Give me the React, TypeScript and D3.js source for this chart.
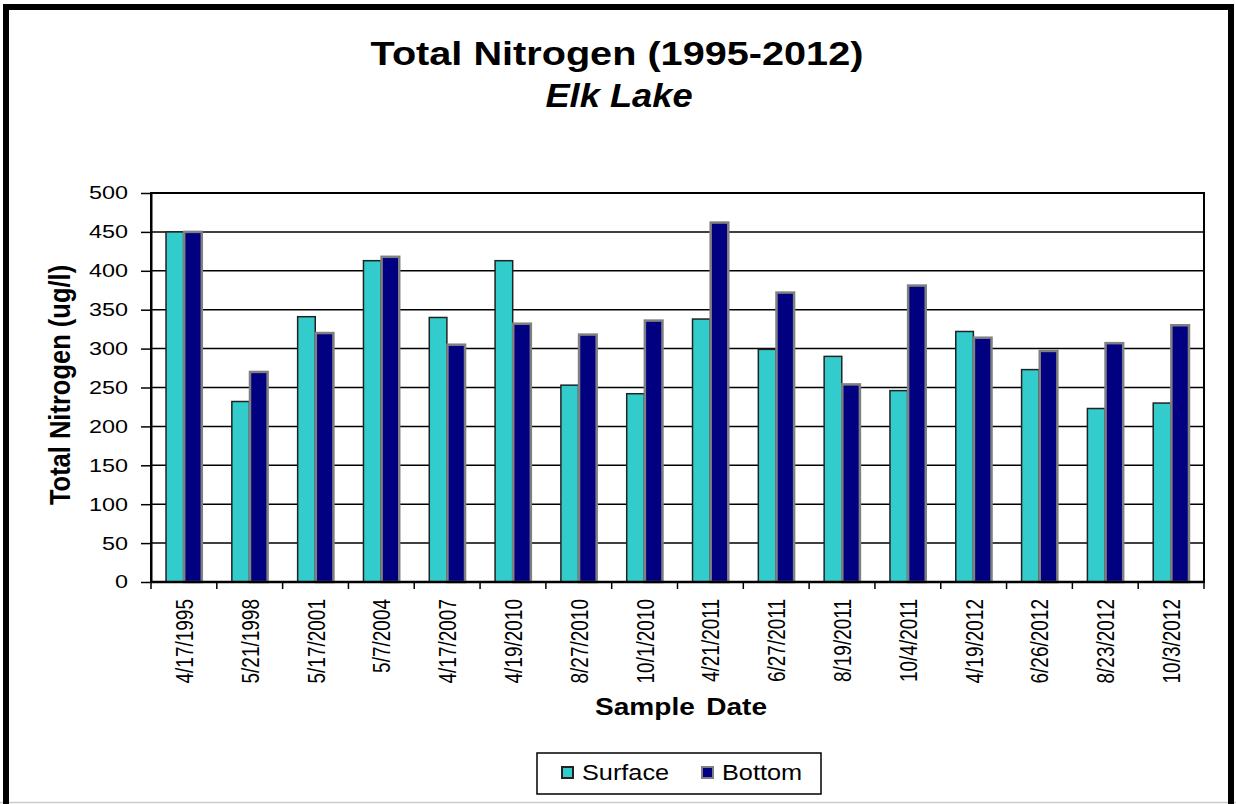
import React, { useEffect, useRef } from 'react';
import * as d3 from 'd3';

const dates = [
  '4/17/1995', '5/21/1998', '5/17/2001', '5/7/2004', '4/17/2007', '4/19/2010',
  '8/27/2010', '10/1/2010', '4/21/2011', '6/27/2011', '8/19/2011', '10/4/2011',
  '4/19/2012', '6/26/2012', '8/23/2012', '10/3/2012'
];
const surface = [450, 232, 341, 413, 340, 413, 253, 242, 338, 299, 290, 246, 322, 273, 223, 230];
const bottom = [450, 270, 320, 418, 305, 332, 318, 336, 462, 372, 254, 381, 314, 297, 307, 330];
const yTicks = [0, 50, 100, 150, 200, 250, 300, 350, 400, 450, 500];
const seriesNames = ['Surface', 'Bottom'];

const App = () => {
  const chartRef = useRef<SVGSVGElement>(null);

  useEffect(() => {
    const svg = d3.select(chartRef.current);
    svg.selectAll('*').remove();

    const W = 1236, H = 804;
    const margin = { top: 193, right: 32, bottom: 222, left: 151 };
    const width = W - margin.left - margin.right;
    const height = H - margin.top - margin.bottom;
    const font = 'Arial, "Liberation Sans", sans-serif';
    const colors = ['#33CCCC', '#000080'];
    const strokes = ['#222222', '#808080'];

    svg.append('rect').attr('width', W).attr('height', H).attr('fill', '#fff');
    // outer frame
    svg.append('line').attr('x1', 0).attr('x2', W).attr('y1', 802.5).attr('y2', 802.5)
      .attr('stroke', '#cccccc').attr('stroke-width', 1.5);
    svg.append('path')
      .attr('d', `M6,${H} L6,7 L1231,7 L1231,${H}`)
      .attr('fill', 'none').attr('stroke', '#000').attr('stroke-width', 6);

    // the source picture is stretched sideways, so texts get an x scale
    svg.append('text')
      .attr('transform', 'translate(617,65) scale(1.22,1)')
      .attr('text-anchor', 'middle')
      .attr('font-family', font).attr('font-weight', 'bold').attr('font-size', 32.5)
      .text('Total Nitrogen (1995-2012)');
    svg.append('text')
      .attr('transform', 'translate(619,106.5) scale(1.1,1)')
      .attr('text-anchor', 'middle')
      .attr('font-family', font).attr('font-weight', 'bold').attr('font-style', 'italic').attr('font-size', 33)
      .text('Elk Lake');

    const x = d3.scaleBand().domain(dates).range([0, width]).paddingInner(0.44).paddingOuter(0.22);
    const xs = d3.scaleBand().domain(seriesNames).range([0, x.bandwidth()]).padding(0.03);
    const y = d3.scaleLinear().domain([0, 500]).range([height, 0]);

    const g = svg.append('g').attr('transform', `translate(${margin.left},${margin.top})`);

    // gridlines
    g.selectAll('.grid')
      .data(yTicks.slice(1))
      .enter().append('line')
      .attr('x1', 0).attr('x2', width)
      .attr('y1', d => y(d)).attr('y2', d => y(d))
      .attr('stroke', '#000').attr('stroke-width', 1.5);

    g.append('rect')
      .attr('width', width).attr('height', height)
      .attr('fill', 'none').attr('stroke', '#000').attr('stroke-width', 2);

    const rows = dates.map((d, i) => ({ date: d, vals: [surface[i], bottom[i]] }));
    const groups = g.selectAll('.grp')
      .data(rows)
      .enter().append('g')
      .attr('transform', d => `translate(${x(d.date)},0)`);

    groups.selectAll('rect')
      .data(d => d.vals.map((v, k) => ({ v, k })))
      .enter().append('rect')
      .attr('x', d => xs(seriesNames[d.k])!)
      .attr('y', d => y(d.v))
      .attr('width', xs.bandwidth())
      .attr('height', d => height - y(d.v))
      .attr('fill', d => colors[d.k])
      .attr('stroke', d => strokes[d.k])
      .attr('stroke-width', d => d.k === 0 ? 1.5 : 2.5);

    // y axis
    const yAxis = g.append('g')
      .call(d3.axisLeft(y).tickValues(yTicks).tickSize(10).tickSizeOuter(0).tickFormat(() => ''));
    yAxis.select('.domain').attr('stroke-width', 2);
    yAxis.selectAll('line').attr('stroke-width', 1.5);

    g.selectAll('.ylabel')
      .data(yTicks)
      .enter().append('text')
      .attr('transform', d => `translate(-23,${y(d)}) scale(1.3,1)`)
      .attr('dy', '0.36em')
      .attr('text-anchor', 'end')
      .attr('font-family', font).attr('font-size', 18)
      .text(d => d);

    // x axis ticks between categories
    const step = width / dates.length;
    g.selectAll('.xtick')
      .data(d3.range(dates.length + 1))
      .enter().append('line')
      .attr('x1', i => i * step).attr('x2', i => i * step)
      .attr('y1', height).attr('y2', height + 7)
      .attr('stroke', '#000').attr('stroke-width', 1.5);
    g.append('line')
      .attr('x1', 0).attr('x2', width).attr('y1', height).attr('y2', height)
      .attr('stroke', '#000').attr('stroke-width', 2.5);

    g.selectAll('.xlabel')
      .data(dates)
      .enter().append('text')
      .attr('transform', d => `translate(${x(d)! + x.bandwidth() / 2 + 9},${height + 17}) scale(1.3,1) rotate(-90)`)
      .attr('text-anchor', 'end')
      .attr('font-family', font).attr('font-size', 19)
      .text(d => d);

    svg.append('text')
      .attr('transform', 'translate(681,715) scale(1.17,1)')
      .attr('text-anchor', 'middle')
      .attr('font-family', font).attr('font-weight', 'bold').attr('font-size', 24)
      .attr('word-spacing', 3)
      .text('Sample Date');

    svg.append('text')
      .attr('transform', `translate(70,385) scale(1.15,1) rotate(-90)`)
      .attr('text-anchor', 'middle')
      .attr('font-family', font).attr('font-weight', 'bold').attr('font-size', 25.5)
      .text('Total Nitrogen (ug/l)');

    // legend
    const legend = svg.append('g').attr('transform', 'translate(537,753)');
    legend.append('rect')
      .attr('width', 284).attr('height', 41)
      .attr('fill', '#fff').attr('stroke', '#000').attr('stroke-width', 1.5);
    const lx = [25, 165];
    seriesNames.forEach((name, k) => {
      legend.append('rect')
        .attr('x', lx[k]).attr('y', 14).attr('width', 11).attr('height', 11)
        .attr('fill', colors[k]).attr('stroke', strokes[k]).attr('stroke-width', 2);
      legend.append('text')
        .attr('transform', `translate(${lx[k] + 20},27) scale(1.15,1)`)
        .attr('font-family', font).attr('font-size', 22)
        .text(name);
    });
  }, []);

  return <svg ref={chartRef} width={1236} height={804} style={{ position: 'absolute', left: 0, top: 0 }} />;
};

export default App;
